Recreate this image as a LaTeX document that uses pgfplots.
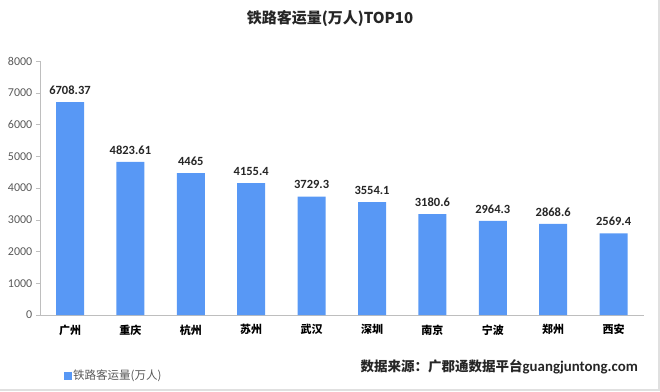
\documentclass[border=0pt]{standalone}
\usepackage{fontspec}
\setmainfont{Carlito}
\newfontfamily\cjk{Noto Sans CJK SC}
\usepackage{pgfplots}
\pgfplotsset{compat=1.18}
\definecolor{barblue}{RGB}{88,152,245}
\definecolor{axgray}{RGB}{190,190,190}
\definecolor{txtgray}{RGB}{89,89,89}
\begin{document}
\begin{tikzpicture}
\useasboundingbox (0pt,0pt) rectangle (660pt,391pt);
\fill[black!12] (0pt,0pt) rectangle (660pt,2.5pt);
\fill[black!12] (657.5pt,0pt) rectangle (660pt,391pt);
\begin{axis}[
  at={(70pt,76pt)}, anchor=origin,
  scale only axis, width=604pt, height=254pt,
  xmin=-0.5, xmax=9.5, ymin=0, ymax=8000,
  axis lines*=left,
  axis line style={axgray},
  x axis line style={-}, y axis line style={-},
  ytick={0,1000,...,8000},
  xtick={0,...,9},
  xticklabels={广州,重庆,杭州,苏州,武汉,深圳,南京,宁波,郑州,西安},
  x tick label style={font=\cjk\bfseries\fontsize{11}{13}\selectfont, text=black, yshift=-2pt},
  y tick label style={font=\fontsize{12}{14}\selectfont, text=txtgray},
  /pgf/number format/assume math mode=true,
  /pgf/number format/1000 sep={},
  major x tick style={draw=none},
  major y tick style={axgray},
  tick align=outside, major tick length=4pt,
  ybar, bar width=28pt,
  nodes near coords,
  point meta=explicit symbolic,
  every node near coord/.style={font=\bfseries\fontsize{12.5}{14}\selectfont, text=black!85, yshift=4pt},
  clip=false,
]
\addplot[fill=barblue, draw=none] coordinates {
(0,6708.37) [6708.37]
(1,4823.61) [4823.61]
(2,4465) [4465]
(3,4155.4) [4155.4]
(4,3729.3) [3729.3]
(5,3554.1) [3554.1]
(6,3180.6) [3180.6]
(7,2964.3) [2964.3]
(8,2868.6) [2868.6]
(9,2569.4) [2569.4]
};
\end{axis}
\node[font=\cjk\bfseries\fontsize{15}{18}\selectfont, text=black!85] at (330pt,372pt) {铁路客运量(万人)TOP10};
\fill[barblue] (64pt,11pt) rectangle (72pt,19pt);
\node[anchor=west, font=\cjk\fontsize{11.5}{13}\selectfont, text=txtgray, inner sep=0pt] at (73pt,15pt) {铁路客运量(万人)};
\node[anchor=east, font=\cjk\bfseries\fontsize{13.5}{16}\selectfont, text=black!85, inner sep=0pt] at (638pt,24pt) {数据来源：广郡通数据平台{\fontspec{Carlito}[Scale=1.1]\bfseries guangjuntong.com}};
\end{tikzpicture}
\end{document}
